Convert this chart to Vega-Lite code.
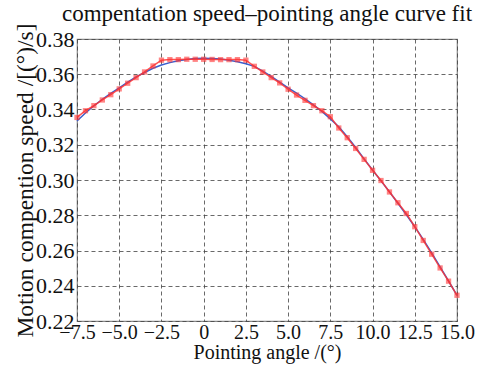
{
  "$schema": "https://vega.github.io/schema/vega-lite/v6.json",
  "width": 380,
  "height": 282,
  "autosize": {"type": "none"},
  "padding": {"left": 77, "top": 39, "right": 21, "bottom": 46},
  "background": "white",
  "config": {
    "font": "Liberation Serif",
    "view": {"stroke": "#888888", "strokeWidth": 1.2},
    "axis": {
      "labelFont": "Liberation Serif",
      "titleFont": "Liberation Serif",
      "labelFontSize": 22,
      "titleFontSize": 20,
      "labelColor": "#111",
      "titleColor": "#111",
      "titleFontWeight": "normal",
      "domain": false,
      "ticks": false,
      "grid": true,
      "gridColor": "#444",
      "gridDash": [4, 3],
      "gridWidth": 1,
      "gridOpacity": 0.8
    },
    "title": {"font": "Liberation Serif", "fontSize": 23, "fontWeight": "normal", "color": "#111", "offset": -3}
  },
  "title": {"text": "compentation speed\u2013pointing angle curve fit", "anchor": "middle"},
  "data": {
    "values": [
      {"angle": -7.5, "measured": 0.3355, "fit": 0.3335},
      {"angle": -7.0, "measured": 0.3393, "fit": 0.3380},
      {"angle": -6.5, "measured": 0.3422, "fit": 0.3421},
      {"angle": -6.0, "measured": 0.3454, "fit": 0.3458},
      {"angle": -5.5, "measured": 0.3484, "fit": 0.3492},
      {"angle": -5.0, "measured": 0.3517, "fit": 0.3523},
      {"angle": -4.5, "measured": 0.3549, "fit": 0.3555},
      {"angle": -4.0, "measured": 0.3581, "fit": 0.3585},
      {"angle": -3.5, "measured": 0.3613, "fit": 0.3610},
      {"angle": -3.0, "measured": 0.3647, "fit": 0.3634},
      {"angle": -2.5, "measured": 0.3680, "fit": 0.3652},
      {"angle": -2.0, "measured": 0.3683, "fit": 0.3666},
      {"angle": -1.5, "measured": 0.3683, "fit": 0.3677},
      {"angle": -1.0, "measured": 0.3685, "fit": 0.3684},
      {"angle": -0.5, "measured": 0.3685, "fit": 0.3689},
      {"angle": 0.0, "measured": 0.3685, "fit": 0.3691},
      {"angle": 0.5, "measured": 0.3684, "fit": 0.3689},
      {"angle": 1.0, "measured": 0.3683, "fit": 0.3686},
      {"angle": 1.5, "measured": 0.3683, "fit": 0.3679},
      {"angle": 2.0, "measured": 0.3683, "fit": 0.3671},
      {"angle": 2.5, "measured": 0.3680, "fit": 0.3660},
      {"angle": 3.0, "measured": 0.3645, "fit": 0.3645},
      {"angle": 3.5, "measured": 0.3613, "fit": 0.3618},
      {"angle": 4.0, "measured": 0.3581, "fit": 0.3588},
      {"angle": 4.5, "measured": 0.3551, "fit": 0.3556},
      {"angle": 5.0, "measured": 0.3515, "fit": 0.3523},
      {"angle": 5.5, "measured": 0.3482, "fit": 0.3493},
      {"angle": 6.0, "measured": 0.3452, "fit": 0.3461},
      {"angle": 6.5, "measured": 0.3422, "fit": 0.3426},
      {"angle": 7.0, "measured": 0.3393, "fit": 0.3389},
      {"angle": 7.5, "measured": 0.3359, "fit": 0.3347},
      {"angle": 8.0, "measured": 0.3295, "fit": 0.3302},
      {"angle": 8.5, "measured": 0.3240, "fit": 0.3246},
      {"angle": 9.0, "measured": 0.3179, "fit": 0.3184},
      {"angle": 9.5, "measured": 0.3117, "fit": 0.3120},
      {"angle": 10.0, "measured": 0.3055, "fit": 0.3057},
      {"angle": 10.5, "measured": 0.2997, "fit": 0.2995},
      {"angle": 11.0, "measured": 0.2932, "fit": 0.2933},
      {"angle": 11.5, "measured": 0.2871, "fit": 0.2868},
      {"angle": 12.0, "measured": 0.2810, "fit": 0.2803},
      {"angle": 12.5, "measured": 0.2735, "fit": 0.2735},
      {"angle": 13.0, "measured": 0.2657, "fit": 0.2663},
      {"angle": 13.5, "measured": 0.2579, "fit": 0.2586},
      {"angle": 14.0, "measured": 0.2501, "fit": 0.2507},
      {"angle": 14.5, "measured": 0.2426, "fit": 0.2427},
      {"angle": 15.0, "measured": 0.2346, "fit": 0.2346}
    ]
  },
  "encoding": {
    "x": {
      "field": "angle",
      "type": "quantitative",
      "scale": {"domain": [-7.5, 15], "nice": false, "zero": false},
      "axis": {
        "title": "Pointing angle /(\u00b0)",
        "labelFontSize": 20,
        "values": [-7.5, -5, -2.5, 0, 2.5, 5, 7.5, 10, 12.5, 15],
        "labelExpr": "datum.value == 0 ? '0' : format(datum.value, '.1f')",
        "labelFlush": false,
        "labelOverlap": false,
        "labelPadding": 1,
        "titlePadding": 0
      }
    },
    "y": {
      "field": "measured",
      "type": "quantitative",
      "scale": {"domain": [0.22, 0.38], "nice": false, "zero": false},
      "axis": {
        "title": "Motion compention speed /[(\u00b0)/s]",
        "titleFontSize": 23.5,
        "values": [0.22, 0.24, 0.26, 0.28, 0.30, 0.32, 0.34, 0.36, 0.38],
        "format": ".2f",
        "labelOverlap": false,
        "labelFlush": false,
        "labelPadding": 3,
        "titlePadding": -2
      }
    }
  },
  "layer": [
    {
      "mark": {"type": "line", "color": "#3a5fcd", "strokeWidth": 1.5},
      "encoding": {"y": {"field": "fit", "type": "quantitative"}}
    },
    {
      "mark": {"type": "line", "color": "#ff3333", "strokeWidth": 1.5, "opacity": 0.85},
      "encoding": {}
    },
    {
      "mark": {"type": "point", "shape": "square", "filled": true, "size": 28, "color": "#ff3333", "opacity": 0.6},
      "encoding": {}
    }
  ]
}
